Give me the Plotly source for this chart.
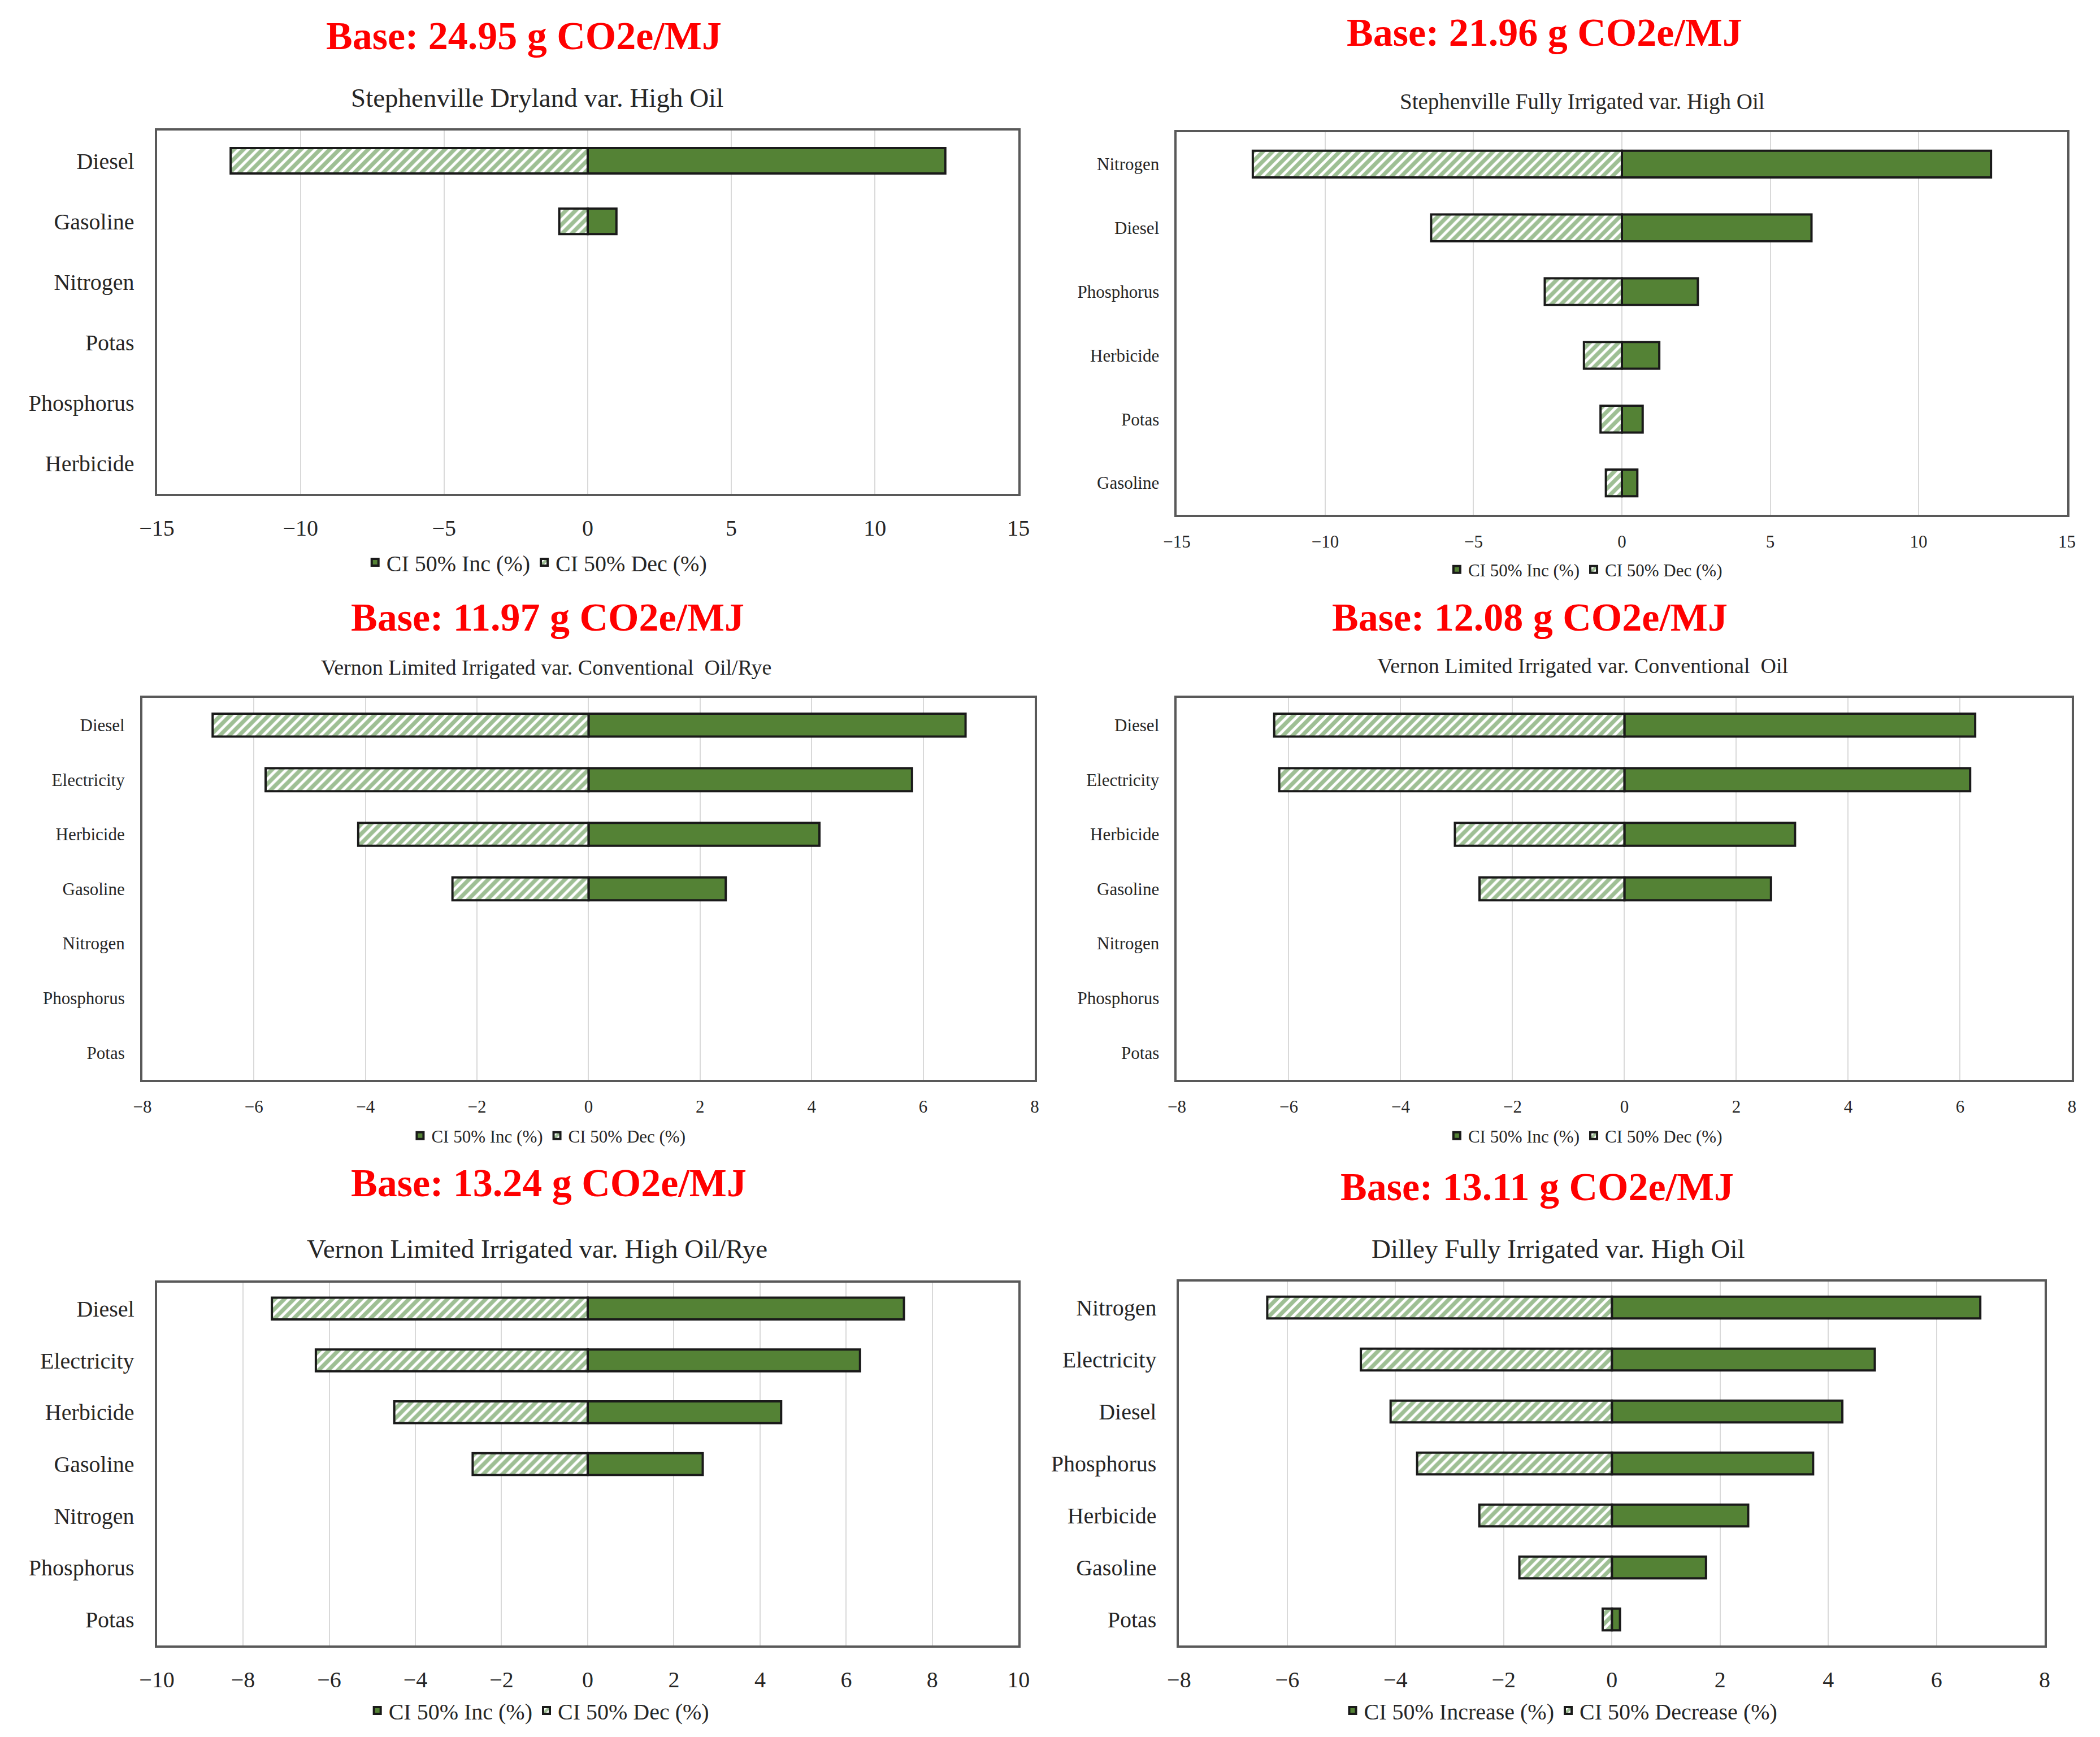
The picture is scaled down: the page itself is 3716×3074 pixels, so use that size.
import plotly.graph_objects as go

# ---------------- data ----------------
p1_title = "Base: 24.95 g CO2e/MJ"
p1_sub = "Stephenville Dryland var. High Oil"
p1_cats = ["Diesel", "Gasoline", "Nitrogen", "Potas", "Phosphorus", "Herbicide"]
p1_inc = [12.45, 1.00, 0, 0, 0, 0]
p1_dec = [-12.43, -0.99, 0, 0, 0, 0]
p1_ticks = [-15, -10, -5, 0, 5, 10, 15]

p2_title = "Base: 21.96 g CO2e/MJ"
p2_sub = "Stephenville Fully Irrigated var. High Oil"
p2_cats = ["Nitrogen", "Diesel", "Phosphorus", "Herbicide", "Potas", "Gasoline"]
p2_inc = [12.44, 6.39, 2.56, 1.26, 0.70, 0.52]
p2_dec = [-12.44, -6.43, -2.60, -1.28, -0.72, -0.54]
p2_ticks = [-15, -10, -5, 0, 5, 10, 15]

p3_title = "Base: 11.97 g CO2e/MJ"
p3_sub = "Vernon Limited Irrigated var. Conventional  Oil/Rye"
p3_cats = ["Diesel", "Electricity", "Herbicide", "Gasoline", "Nitrogen", "Phosphorus", "Potas"]
p3_inc = [6.76, 5.80, 4.14, 2.46, 0, 0, 0]
p3_dec = [-6.74, -5.79, -4.13, -2.44, 0, 0, 0]
p3_ticks = [-8, -6, -4, -2, 0, 2, 4, 6, 8]

p4_title = "Base: 12.08 g CO2e/MJ"
p4_sub = "Vernon Limited Irrigated var. Conventional  Oil"
p4_cats = ["Diesel", "Electricity", "Herbicide", "Gasoline", "Nitrogen", "Phosphorus", "Potas"]
p4_inc = [6.27, 6.18, 3.05, 2.62, 0, 0, 0]
p4_dec = [-6.26, -6.17, -3.03, -2.59, 0, 0, 0]
p4_ticks = [-8, -6, -4, -2, 0, 2, 4, 6, 8]

p5_title = "Base: 13.24 g CO2e/MJ"
p5_sub = "Vernon Limited Irrigated var. High Oil/Rye"
p5_cats = ["Diesel", "Electricity", "Herbicide", "Gasoline", "Nitrogen", "Phosphorus", "Potas"]
p5_inc = [7.34, 6.32, 4.49, 2.67, 0, 0, 0]
p5_dec = [-7.33, -6.31, -4.49, -2.67, 0, 0, 0]
p5_ticks = [-10, -8, -6, -4, -2, 0, 2, 4, 6, 8, 10]

p6_title = "Base: 13.11 g CO2e/MJ"
p6_sub = "Dilley Fully Irrigated var. High Oil"
p6_cats = ["Nitrogen", "Electricity", "Diesel", "Phosphorus", "Herbicide", "Gasoline", "Potas"]
p6_inc = [6.81, 4.86, 4.26, 3.72, 2.52, 1.74, 0.15]
p6_dec = [-6.37, -4.64, -4.09, -3.60, -2.45, -1.71, -0.17]
p6_ticks = [-8, -6, -4, -2, 0, 2, 4, 6, 8]

inc_names = ["CI 50% Inc (%)"] * 5 + ["CI 50% Increase (%)"]
dec_names = ["CI 50% Dec (%)"] * 5 + ["CI 50% Decrease (%)"]

# ---------------- layout / style ----------------
W, H = 3716, 3074
GREEN = "#548235"
HATCH = "#3d7f2a"
FONT = "Liberation Serif"


def nz(vals):
    # zero-length bars are simply not drawn (as in the source chart)
    return [v if v != 0 else None for v in vals]


panels = [
    dict(title=p1_title, sub=p1_sub, cats=p1_cats, inc=p1_inc, dec=p1_dec, ticks=p1_ticks,
         px=(250, 1796), py=(231, 874), tpos=(908, 64), spos=(932, 173), lpos=(932, 995),
         fs=40, sfs=47),
    dict(title=p2_title, sub=p2_sub, cats=p2_cats, inc=p2_inc, dec=p2_dec, ticks=p2_ticks,
         px=(2080, 3677), py=(234, 911), tpos=(2740, 57), spos=(2808, 180), lpos=(2813, 1008),
         fs=31, sfs=39),
    dict(title=p3_title, sub=p3_sub, cats=p3_cats, inc=p3_inc, dec=p3_dec, ticks=p3_ticks,
         px=(224, 1825), py=(1235, 1911), tpos=(951, 1092), spos=(949, 1181), lpos=(953, 2010),
         fs=31, sfs=38),
    dict(title=p4_title, sub=p4_sub, cats=p4_cats, inc=p4_inc, dec=p4_dec, ticks=p4_ticks,
         px=(2080, 3686), py=(1235, 1911), tpos=(2713, 1092), spos=(2808, 1178), lpos=(2813, 2010),
         fs=31, sfs=38),
    dict(title=p5_title, sub=p5_sub, cats=p5_cats, inc=p5_inc, dec=p5_dec, ticks=p5_ticks,
         px=(250, 1796), py=(2270, 2912), tpos=(953, 2093), spos=(932, 2210), lpos=(936, 3027),
         fs=40, sfs=47),
    dict(title=p6_title, sub=p6_sub, cats=p6_cats, inc=p6_inc, dec=p6_dec, ticks=p6_ticks,
         px=(2084, 3637), py=(2268, 2912), tpos=(2726, 2100), spos=(2764, 2210), lpos=(2769, 3027),
         fs=40, sfs=47),
]

fig = go.Figure()
layout = dict(
    width=W, height=H, margin=dict(l=0, r=0, t=0, b=0),
    paper_bgcolor="white", plot_bgcolor="white",
    barmode="relative", bargap=0.58,
    font=dict(family=FONT, color="#262626"),
    annotations=[],
)

for i, p in enumerate(panels):
    k = i + 1
    xa = "x" if k == 1 else f"x{k}"
    ya = "y" if k == 1 else f"y{k}"
    lg = "legend" if k == 1 else f"legend{k}"
    fig.add_trace(go.Bar(
        y=p["cats"], x=nz(p["inc"]), orientation="h", name=inc_names[i],
        xaxis=xa, yaxis=ya, legend=lg,
        marker=dict(color=GREEN, line=dict(color="#1a1a1a", width=4)),
    ))
    fig.add_trace(go.Bar(
        y=p["cats"], x=nz(p["dec"]), orientation="h", name=dec_names[i],
        xaxis=xa, yaxis=ya, legend=lg,
        marker=dict(color="white", line=dict(color="#1a1a1a", width=4),
                    pattern=dict(shape="/", fgcolor=HATCH, bgcolor="white", size=12, solidity=0.6)),
    ))
    xd = [p["px"][0] / W, p["px"][1] / W]
    yd = [1 - p["py"][1] / H, 1 - p["py"][0] / H]
    t = p["ticks"]
    layout["xaxis" if k == 1 else f"xaxis{k}"] = dict(
        domain=xd, anchor=ya, range=[t[0], t[-1]], tickvals=t,
        showgrid=True, gridcolor="#d9d9d9", gridwidth=2, zeroline=False,
        showline=True, mirror=True, linecolor="#595959", linewidth=4,
        tickfont=dict(family=FONT, size=p["fs"], color="#262626"),
        ticks="", ticklabelstandoff=int(p["fs"] * 0.55),
    )
    n = len(p["cats"])
    layout["yaxis" if k == 1 else f"yaxis{k}"] = dict(
        domain=yd, anchor=xa, type="category",
        categoryorder="array", categoryarray=p["cats"],
        range=[n - 0.5, -0.5], showgrid=False, zeroline=False,
        showline=True, mirror=True, linecolor="#595959", linewidth=4,
        tickfont=dict(family=FONT, size=p["fs"], color="#262626"),
        ticks="", ticklabelstandoff=int(p["fs"] * 0.7),
    )
    layout[lg] = dict(
        orientation="h", x=p["lpos"][0] / W, y=1 - p["lpos"][1] / H,
        xanchor="center", yanchor="middle", traceorder="normal",
        font=dict(family=FONT, size=p["fs"], color="#262626"),
        bgcolor="rgba(0,0,0,0)", itemwidth=30,
    )
    layout["annotations"].append(dict(
        text=f"<b>{p['title']}</b>", x=p["tpos"][0] / W, y=1 - p["tpos"][1] / H,
        xref="paper", yref="paper", xanchor="center", yanchor="middle", showarrow=False,
        font=dict(family=FONT, size=70, color="#ff0000"),
    ))
    layout["annotations"].append(dict(
        text=p["sub"], x=p["spos"][0] / W, y=1 - p["spos"][1] / H,
        xref="paper", yref="paper", xanchor="center", yanchor="middle", showarrow=False,
        font=dict(family=FONT, size=p["sfs"], color="#262626"),
    ))

fig.update_layout(**layout)
fig.write_html("out.html")
